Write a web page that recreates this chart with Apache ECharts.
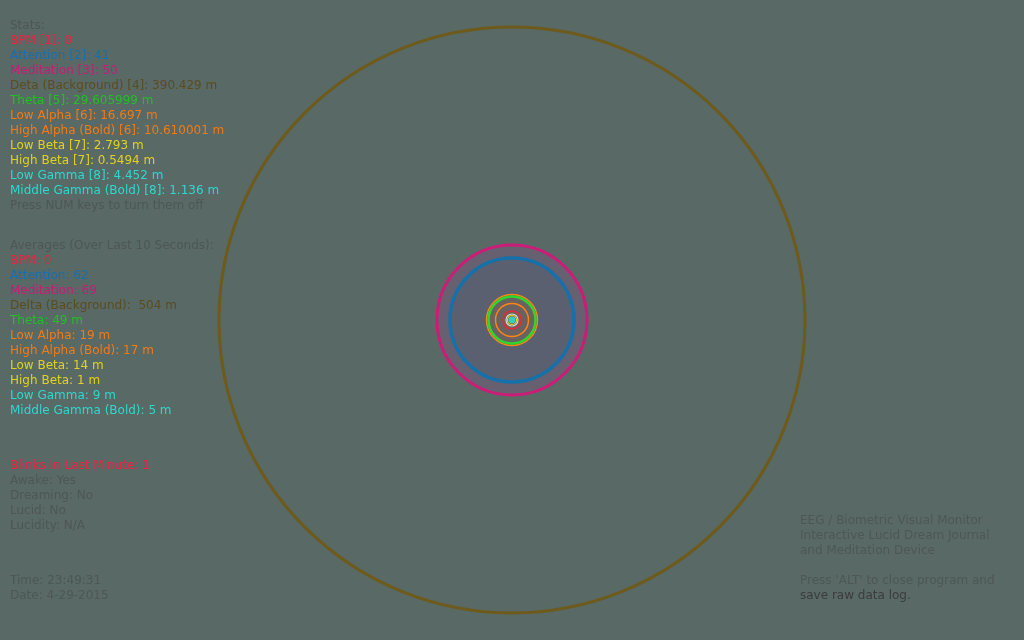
<!DOCTYPE html>
<html><head><meta charset="utf-8">
<script src="https://cdn.jsdelivr.net/npm/echarts@6/dist/echarts.min.js"></script>
<style>html,body{margin:0;padding:0;background:#586966;}#c{width:1024px;height:640px;}</style>
</head><body><div id="c"></div>
<script>
// ---- data ----
const ringNames = ['Delta','Meditation','Attention','High Alpha','Theta','Low Alpha','Blinks','Low Gamma','Low Beta','Middle Gamma'];
const ringRadius = [293, 75, 62, 25.5, 23.5, 16.5, 9, 6, 4.5, 3];

const statsLines = ['Stats:','BPM [1]: 0','Attention [2]: 41','Meditation [3]: 50','Deta (Background) [4]: 390.429 m','Theta [5]: 29.605999 m','Low Alpha [6]: 16.697 m','High Alpha (Bold) [6]: 10.610001 m','Low Beta [7]: 2.793 m','High Beta [7]: 0.5494 m','Low Gamma [8]: 4.452 m','Middle Gamma (Bold) [8]: 1.136 m','Press NUM keys to turn them off'];
const avgLines = ['Averages (Over Last 10 Seconds):','BPM: 0','Attention: 62','Meditation: 69','Delta (Background):  504 m','Theta: 49 m','Low Alpha: 19 m','High Alpha (Bold): 17 m','Low Beta: 14 m','High Beta: 1 m','Low Gamma: 9 m','Middle Gamma (Bold): 5 m'];
const stateLines = ['Blinks In Last Minute: 1','Awake: Yes','Dreaming: No','Lucid: No','Lucidity: N/A'];
const timeLines = ['Time: 23:49:31','Date: 4-29-2015'];
const infoLines = ['EEG / Biometric Visual Monitor','Interactive Lucid Dream Journal','and Meditation Device','','Press \'ALT\' to close program and','save raw data log.'];

// ---- styles ----
const GREY = '#4e5755';
const C = {red:'#ee2240', blue:'#1670b0', mag:'#c81c78', brown:'#5c4c1e', green:'#22c022', orange:'#f47a14', yellow:'#e2d21e', cyan:'#2ed8d0'};
const statColors = [GREY,C.red,C.blue,C.mag,C.brown,C.green,C.orange,C.orange,C.yellow,C.yellow,C.cyan,C.cyan,GREY];
const avgColors = [GREY,C.red,C.blue,C.mag,C.brown,C.green,C.orange,C.orange,C.yellow,C.yellow,C.cyan,C.cyan];
const stateColors = [C.red,GREY,GREY,GREY,GREY];
const infoColors = [GREY,GREY,GREY,GREY,GREY,'#3c3c3c'];
const ringStyle = [
  {stroke:'#6e5a1a', lw:3, fill:'none'},
  {stroke:'#cc1c78', lw:3, fill:'#676070'},
  {stroke:'#1670aa', lw:3.5, fill:'#5a6070'},
  {stroke:'#ff8412', lw:1.5, fill:'#6a6260'},
  {stroke:'#2cd82c', lw:2.5, fill:'none'},
  {stroke:'#ff8412', lw:1.5, fill:'none'},
  {stroke:'#e8283a', lw:1.5, fill:'none'},
  {stroke:'#d8d8d0', lw:1.2, fill:'none'},
  {stroke:'#e8d820', lw:1.2, fill:'none'},
  {stroke:'#30d8c8', lw:1, fill:'#30d0c0'}
];

const FONT = '12px "DejaVu Sans"';
function block(lines, colors, x, y0) {
  return lines.map((t, i) => ({
    type:'text', left:x, top:y0 + i*15,
    style:{text:t, fill:colors[i], font:FONT}
  }));
}

const chart = echarts.init(document.getElementById('c'), null, {renderer:'canvas'});
chart.setOption({
  backgroundColor:'#586966',
  animation:false,
  grid:{left:192, top:0, width:640, height:640},
  xAxis:{type:'value', min:-320, max:320, show:false},
  yAxis:{type:'value', min:-320, max:320, show:false},
  series:[{
    type:'custom',
    data: ringRadius.map((r, i) => [0, 0, r, i]),
    renderItem: function(params, api) {
      const c = api.coord([api.value(0), api.value(1)]);
      const r = api.size([api.value(2), api.value(2)])[0];
      const s = ringStyle[api.value(3)];
      return {type:'circle', shape:{cx:c[0], cy:c[1], r:r},
        style:{stroke:s.stroke, lineWidth:s.lw, fill:s.fill === 'none' ? null : s.fill}};
    }
  }],
  graphic: [].concat(
    block(statsLines, statColors, 10, 20),
    block(avgLines, avgColors, 10, 240),
    block(stateLines, stateColors, 10, 460),
    block(timeLines, [GREY,GREY], 10, 575),
    block(infoLines, infoColors, 800, 515)
  )
});
</script>
</body></html>
